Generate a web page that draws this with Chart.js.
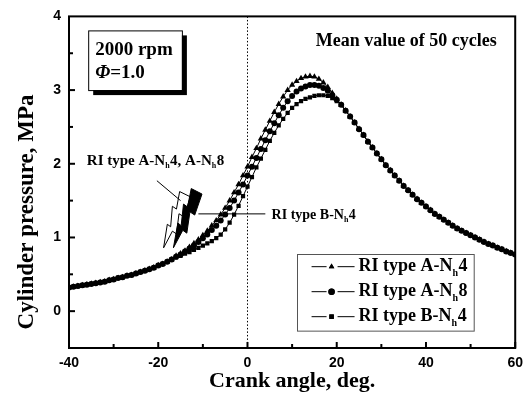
<!DOCTYPE html>
<html>
<head>
<meta charset="utf-8">
<script src="https://cdn.jsdelivr.net/npm/chart.js@4.4.0/dist/chart.umd.min.js"></script>
<style>
  html, body { margin: 0; padding: 0; background: #fff; }
</style>
</head>
<body>
<canvas id="pressureChart" width="530" height="406"></canvas>
<script>
const serif = "'Liberation Serif', 'DejaVu Serif', serif";
const sans = "'Liberation Sans', Arial, sans-serif";

// crank angle, deg (-40 .. 60)
const crankAngles = [
  -40,-39,-38,-37,-36,-35,-34,-33,-32,-31,-30,-29,-28,-27,-26,-25,-24,-23,-22,-21,
  -20,-19,-18,-17,-16,-15,-14,-13,-12,-11,-10,-9,-8,-7,-6,-5,-4,-3,-2,-1,
  0,1,2,3,4,5,6,7,8,9,10,11,12,13,14,15,16,17,18,19,
  20,21,22,23,24,25,26,27,28,29,30,31,32,33,34,35,36,37,38,39,
  40,41,42,43,44,45,46,47,48,49,50,51,52,53,54,55,56,57,58,59,60
];

// common compression part, -40 .. -17 deg
const compressionP = [0.32,0.33,0.34,0.35,0.36,0.37,0.38,0.39,0.40,0.42,0.43,0.45,0.46,0.48,0.49,0.51,0.53,0.55,0.57,0.59,0.62,0.64,0.67,0.70];

// combustion part of each case, -16 .. 21 deg
const typeA4P = [0.75,0.78,0.82,0.87,0.92,0.97,1.03,1.09,1.16,1.23,1.31,1.40,1.50,1.61,1.72,1.84,
  1.96,2.09,2.21,2.34,2.46,2.58,2.70,2.81,2.91,3.00,3.07,3.12,3.16,3.18,3.19,3.18,3.15,3.10,3.04,2.96,2.88,2.80];
const typeA8P = [0.74,0.77,0.81,0.85,0.89,0.94,0.99,1.04,1.10,1.16,1.23,1.31,1.40,1.50,1.61,1.72,
  1.84,1.96,2.08,2.20,2.32,2.44,2.55,2.66,2.76,2.85,2.92,2.98,3.02,3.05,3.07,3.07,3.06,3.03,2.99,2.93,2.87,2.80];
const typeB4P = [0.73,0.75,0.78,0.80,0.83,0.86,0.89,0.92,0.95,0.99,1.04,1.11,1.20,1.31,1.43,1.56,
  1.69,1.82,1.95,2.07,2.19,2.31,2.42,2.52,2.61,2.69,2.76,2.81,2.85,2.88,2.90,2.92,2.93,2.93,2.92,2.89,2.85,2.80];

// common expansion part, 22 .. 60 deg
const expansionP = [2.72,2.64,2.56,2.47,2.39,2.30,2.22,2.14,2.06,1.98,1.91,1.84,1.77,1.70,1.64,1.58,1.52,1.47,1.42,1.37,
  1.32,1.28,1.24,1.20,1.16,1.12,1.09,1.06,1.03,1.00,0.97,0.94,0.91,0.89,0.86,0.84,0.81,0.79,0.77];

// legend text, split as [text, subscript, text]
const seriesNames = [['RI type A-N', 'h', '4'], ['RI type A-N', 'h', '8'], ['RI type B-N', 'h', '4']];
const seriesMarkers = ['triangle', 'circle', 'rect'];

const toPoints = (part) => compressionP.concat(part, expansionP).map((p, i) => ({x: crankAngles[i], y: p}));

function richText(ctx, parts, x, y, size) {
  let cx = x;
  parts.forEach((p, i) => {
    const sub = i % 2 === 1;
    const s = sub ? Math.round(size * 0.55) : size;
    ctx.font = 'bold ' + s + 'px ' + serif;
    ctx.fillText(p, cx, sub ? y + size * 0.35 : y);
    cx += ctx.measureText(p).width + (sub ? 0.5 : 0);
  });
}

function drawBolt(ctx, x, y, base, top, fill, w) {
  const bx = x.getPixelForValue(base[0]), by = y.getPixelForValue(base[1]);
  const tx = x.getPixelForValue(top[0]), ty = y.getPixelForValue(top[1]);
  const dx = tx - bx, dy = ty - by;
  const len = Math.hypot(dx, dy);
  const px = -dy / len, py = dx / len;
  const shape = [[0,0],[0.40,-0.6],[0.38,-0.1],[0.72,-0.8],[0.70,-0.2],[1,-0.6],[0.98,0.9],[0.62,1],[0.64,0.3],[0.30,0.9],[0.32,0.3],[0,0]];
  ctx.beginPath();
  shape.forEach(([u, v], i) => {
    const X = bx + dx * u + px * v * w, Y = by + dy * u + py * v * w;
    if (i === 0) ctx.moveTo(X, Y); else ctx.lineTo(X, Y);
  });
  ctx.closePath();
  ctx.fillStyle = fill;
  ctx.fill();
  ctx.lineWidth = 1;
  ctx.strokeStyle = '#000';
  ctx.stroke();
}

const framePlugin = {
  id: 'frame',
  beforeDatasetsDraw(chart) {
    const {ctx, chartArea: a, scales: {x, y}} = chart;
    ctx.save();
    ctx.strokeStyle = '#000';
    ctx.lineWidth = 1;
    ctx.setLineDash([1.5, 2]);
    const x0 = Math.round(x.getPixelForValue(0)) + 0.5;
    ctx.beginPath();
    ctx.moveTo(x0, a.top);
    ctx.lineTo(x0, a.bottom);
    ctx.stroke();
    ctx.restore();
  },
  afterDatasetsDraw(chart) {
    const {ctx, chartArea: a, scales: {x, y}} = chart;
    ctx.save();
    ctx.strokeStyle = '#000';
    ctx.fillStyle = '#000';
    ctx.lineWidth = 2;
    ctx.strokeRect(a.left, a.top, a.right - a.left, a.bottom - a.top);

    // inward ticks
    [-40,-30,-20,-10,0,10,20,30,40,50,60].forEach((v) => {
      const px = x.getPixelForValue(v);
      const l = v % 20 === 0 ? 6 : 4;
      ctx.beginPath(); ctx.moveTo(px, a.bottom); ctx.lineTo(px, a.bottom - l); ctx.stroke();
    });
    [0,0.5,1,1.5,2,2.5,3,3.5].forEach((v) => {
      const py = y.getPixelForValue(v);
      const l = Number.isInteger(v) ? 6 : 4;
      ctx.beginPath(); ctx.moveTo(a.left, py); ctx.lineTo(a.left + l, py); ctx.stroke();
    });

    // y axis title
    ctx.save();
    ctx.translate(27, 212);
    ctx.rotate(-Math.PI / 2);
    ctx.textAlign = 'center';
    ctx.textBaseline = 'middle';
    ctx.font = 'bold 23px ' + serif;
    ctx.fillText('Cylinder pressure, MPa', 0, 0);
    ctx.restore();

    // 2000 rpm box
    const bl = x.getPixelForValue(-35.7), bt = y.getPixelForValue(3.81);
    const br = x.getPixelForValue(-14.7), bb = y.getPixelForValue(3.0);
    ctx.fillRect(bl + 5, bt + 5, br - bl, bb - bt);
    ctx.fillStyle = '#fff';
    ctx.fillRect(bl, bt, br - bl, bb - bt);
    ctx.lineWidth = 1;
    ctx.strokeRect(bl + 0.5, bt + 0.5, br - bl, bb - bt);
    ctx.fillStyle = '#000';
    ctx.textBaseline = 'middle';
    ctx.textAlign = 'left';
    ctx.font = 'bold 19px ' + serif;
    ctx.fillText('2000 rpm', bl + 7, bt + 20);
    ctx.font = 'italic bold 19px ' + serif;
    ctx.fillText('\u03A6', bl + 7, bt + 43);
    const pw = ctx.measureText('\u03A6').width;
    ctx.font = 'bold 19px ' + serif;
    ctx.fillText('=1.0', bl + 7 + pw, bt + 43);

    ctx.font = 'bold 18px ' + serif;
    ctx.fillText('Mean value of 50 cycles', x.getPixelForValue(15.3), y.getPixelForValue(3.66));

    // ignition annotations
    drawBolt(ctx, x, y, [-18.8, 0.86], [-14.2, 1.60], '#fff', 8);
    drawBolt(ctx, x, y, [-16.6, 0.86], [-11.6, 1.64], '#000', 8);
    ctx.lineWidth = 1;
    ctx.beginPath();
    ctx.moveTo(x.getPixelForValue(-20.3), y.getPixelForValue(1.77));
    ctx.lineTo(x.getPixelForValue(-15.0), y.getPixelForValue(1.50));
    ctx.stroke();
    ctx.beginPath();
    ctx.moveTo(x.getPixelForValue(-11.0), y.getPixelForValue(1.32));
    ctx.lineTo(x.getPixelForValue(4.0), y.getPixelForValue(1.32));
    ctx.stroke();
    ctx.fillStyle = '#000';
    richText(ctx, ['RI type A-N', 'h', '4, A-N', 'h', '8'], x.getPixelForValue(-36.0), y.getPixelForValue(2.04), 15);
    richText(ctx, ['RI type B-N', 'h', '4'], x.getPixelForValue(5.4), y.getPixelForValue(1.30), 14);

    // legend
    const ll = x.getPixelForValue(11.0), lt = y.getPixelForValue(0.78);
    const lr = x.getPixelForValue(50.6), lb = y.getPixelForValue(-0.26);
    ctx.fillStyle = '#fff';
    ctx.fillRect(ll, lt, lr - ll, lb - lt);
    ctx.strokeStyle = '#555';
    ctx.lineWidth = 1;
    ctx.strokeRect(Math.round(ll) + 0.5, Math.round(lt) + 0.5, lr - ll, lb - lt);
    ctx.strokeStyle = '#000';
    seriesNames.forEach((name, i) => {
      const ry = lt + 13 + i * 25;
      ctx.beginPath();
      ctx.moveTo(ll + 15, ry); ctx.lineTo(ll + 30, ry);
      ctx.moveTo(ll + 41, ry); ctx.lineTo(ll + 58, ry);
      ctx.stroke();
      ctx.fillStyle = '#000';
      Chart.helpers.drawPoint(ctx, {pointStyle: seriesMarkers[i], radius: 3.2, borderWidth: 0}, ll + 35, ry);
      ctx.fill();
      richText(ctx, name, ll + 62, ry, 18);
    });
    ctx.restore();
  }
};

const ctx = document.getElementById('pressureChart');

new Chart(ctx, {
  type: 'line',
  data: {
    datasets: [typeA4P, typeA8P, typeB4P].map((part, i) => ({
      label: seriesNames[i].join(''),
      data: toPoints(part),
      borderColor: '#000',
      borderWidth: 1,
      backgroundColor: '#000',
      pointStyle: seriesMarkers[i],
      pointRadius: i === 0 ? 3.6 : 3,
      pointBorderWidth: 0,
      pointBackgroundColor: '#000',
      fill: false,
      tension: 0
    }))
  },
  options: {
    responsive: false,
    animation: false,
    devicePixelRatio: 1,
    layout: { padding: { top: 15, right: 13, left: 0, bottom: 0 } },
    plugins: { legend: { display: false }, tooltip: { enabled: false } },
    scales: {
      x: {
        type: 'linear',
        min: -40,
        max: 60,
        grid: { display: false, drawTicks: false },
        border: { display: false },
        ticks: { stepSize: 20, padding: 7, color: '#000', font: { family: sans, size: 14, weight: 'bold' } },
        title: { display: true, text: 'Crank angle, deg.', color: '#000', padding: { top: 0, bottom: 11 }, font: { family: serif, size: 22, weight: 'bold' } },
        afterFit: (axis) => { axis.height = 58; }
      },
      y: {
        min: -0.5,
        max: 4,
        grid: { display: false, drawTicks: false },
        border: { display: false },
        ticks: {
          stepSize: 1,
          padding: 8,
          color: '#000',
          font: { family: sans, size: 14, weight: 'bold' },
          callback: (v) => Number.isInteger(v) ? v : ''
        },
        title: { display: false },
        afterFit: (axis) => { axis.width = 69; }
      }
    }
  },
  plugins: [framePlugin]
});
</script>
</body>
</html>
